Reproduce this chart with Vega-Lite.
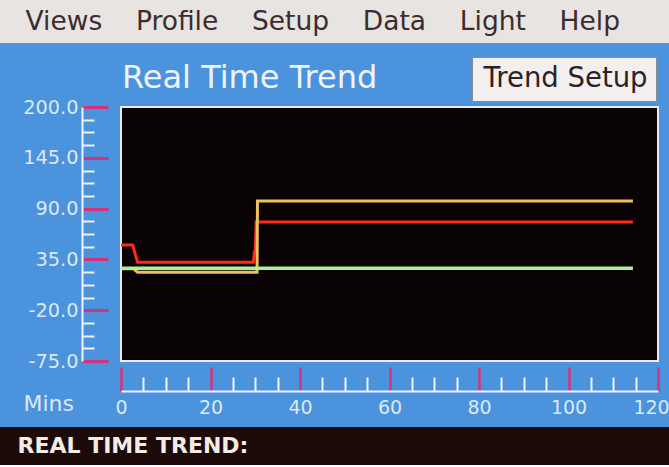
{
  "$schema": "https://vega.github.io/schema/vega-lite/v6.json",
  "background": "#4b93dc",
  "padding": 0,
  "spacing": 9,
  "config": {"font": "DejaVu Sans", "view": {"stroke": null},
    "locale": {"number": {"decimal": ".", "thousands": ",", "grouping": [3], "currency": ["$", ""], "minus": "-"}}},
  "datasets": {
    "menu": [{"label": "Views\u00a0\u00a0\u00a0\u00a0Profile\u00a0\u00a0\u00a0\u00a0Setup\u00a0\u00a0\u00a0\u00a0Data\u00a0\u00a0\u00a0\u00a0Light\u00a0\u00a0\u00a0\u00a0Help"}],
    "footer": [{"label": "REAL TIME TREND:"}],
    "traces": [
      {"trace": "Trace A", "t": 0, "v": 50.5},
      {"trace": "Trace A", "t": 2.6, "v": 50.5},
      {"trace": "Trace A", "t": 3.7, "v": 32},
      {"trace": "Trace A", "t": 29.6, "v": 32},
      {"trace": "Trace A", "t": 29.8, "v": 43},
      {"trace": "Trace A", "t": 30.0, "v": 43},
      {"trace": "Trace A", "t": 30.2, "v": 75.5},
      {"trace": "Trace A", "t": 114.4, "v": 75.5},
      {"trace": "Trace B", "t": 0, "v": 25},
      {"trace": "Trace B", "t": 2.8, "v": 25},
      {"trace": "Trace B", "t": 3.7, "v": 21},
      {"trace": "Trace B", "t": 30.4, "v": 21},
      {"trace": "Trace B", "t": 30.5, "v": 98.2},
      {"trace": "Trace B", "t": 114.4, "v": 98.2},
      {"trace": "Trace C", "t": 0, "v": 25.5},
      {"trace": "Trace C", "t": 114.4, "v": 25.5}
    ]
  },
  "vconcat": [
    {
      "width": 669,
      "height": 43,
      "view": {"fill": "#e7e4e2", "stroke": null},
      "title": {"text": "\u00a0", "orient": "bottom", "offset": 8, "fontSize": 1, "color": "transparent"},
      "data": {"name": "menu"},
      "mark": {"type": "text", "align": "left", "baseline": "middle", "dx": -309, "font": "DejaVu Sans", "fontSize": 26.5, "color": "#3b2d2f"},
      "encoding": {"text": {"field": "label", "type": "nominal"}}
    },
    {
      "spacing": 0,
      "hconcat": [
        {
          "width": 0,
          "height": 254,
          "data": {"values": []},
          "mark": "point"
        },
        {
          "width": 537,
          "height": 254,
          "view": {"fill": "#0a0306", "stroke": "#efe9f1", "strokeWidth": 2},
          "title": {"text": "Real Time Trend", "anchor": "start", "frame": "group", "fontSize": 32, "font": "DejaVu Sans", "fontWeight": "normal", "color": "#eef3fa", "offset": 3, "dx": 1},
          "data": {"name": "traces"},
          "layer": [
            {
              "transform": [{"filter": "datum.trace != 'Trace C'"}],
              "mark": {"type": "line", "strokeWidth": 3, "interpolate": "linear"},
              "encoding": {
                "x": {"field": "t", "type": "quantitative", "scale": {"domain": [0, 120], "nice": false, "zero": false},
                  "axis": {"orient": "bottom", "offset": 30, "values": [0, 20, 40, 60, 80, 100, 120], "format": "d", "grid": false,
                    "domainColor": "#f2f2f6", "domainWidth": 2, "tickColor": "#d4327c", "tickWidth": 2.5, "tickSize": -24,
                    "labelColor": "#dde8f6", "labelFontSize": 19, "labelFont": "DejaVu Sans", "labelPadding": 31, "labelFlush": false, "labelOverlap": false, "labelBound": false,
                    "labelOffset": {"condition": {"test": "datum.value === 120", "value": -7}, "value": 0},
                    "title": "Mins", "titleX": -98, "titleY": 19, "titleAlign": "left", "titleBaseline": "alphabetic", "titleAnchor": "start", "titleFontSize": 22, "titleFontWeight": "normal", "titleFont": "DejaVu Sans", "titleColor": "#dde8f6"}},
                "y": {"field": "v", "type": "quantitative", "scale": {"domain": [-75, 200], "nice": false, "zero": false},
                  "axis": {"orient": "left", "offset": 39, "values": [-75, -20, 35, 90, 145, 200], "format": ".1f", "grid": false,
                    "domainColor": "#f2f2f6", "domainWidth": 2, "tickColor": "#d4327c", "tickWidth": 3, "tickSize": -26,
                    "labelColor": "#dde8f6", "labelFontSize": 19.3, "labelFont": "DejaVu Sans", "labelPadding": 30, "labelOverlap": false, "labelBound": false, "title": null}},
                "color": {"field": "trace", "type": "nominal", "scale": {"domain": ["Trace A", "Trace B", "Trace C"], "range": ["#ff2a1c", "#ecc25c", "#aef096"]}, "legend": null},
                "strokeDash": {"datum": "Trend Setup", "scale": {"range": [[1, 0]]},
                  "legend": {"orient": "none", "legendX": 472, "legendY": 57, "fillColor": "#f3efef", "strokeColor": "#8e8a8c", "padding": 8, "title": null,
                    "labelFontSize": 27.5, "labelFont": "DejaVu Sans", "labelColor": "#2a2224", "labelOffset": -24, "labelLimit": 400,
                    "symbolType": "circle", "symbolOpacity": 0, "symbolSize": 0.01, "symbolStrokeWidth": 0}}
              }
            },
            {
              "transform": [{"filter": "datum.trace == 'Trace C'"}],
              "mark": {"type": "line", "strokeWidth": 3.5},
              "encoding": {
                "x": {"field": "t", "type": "quantitative",
                  "axis": {"orient": "bottom", "offset": 30, "values": [5, 10, 15, 25, 30, 35, 45, 50, 55, 65, 70, 75, 85, 90, 95, 105, 110, 115], "grid": false,
                    "domain": false, "labels": false, "tickColor": "#f2f2f6", "tickWidth": 2, "tickSize": -14, "title": null}},
                "y": {"field": "v", "type": "quantitative",
                  "axis": {"orient": "left", "offset": 39, "values": [-61.25, -47.5, -33.75, -6.25, 7.5, 21.25, 48.75, 62.5, 76.25, 103.75, 117.5, 131.25, 158.75, 172.5, 186.25], "grid": false,
                    "domain": false, "labels": false, "tickColor": "#f2f2f6", "tickWidth": 2, "tickSize": -12,
                    "title": "\u00a0", "titleX": -61, "titleY": 0, "titleAngle": 0, "titleAlign": "left", "titleBaseline": "top", "titleFontSize": 10, "titleOpacity": 0}},
                "color": {"field": "trace", "type": "nominal", "legend": null}
              }
            }
          ],
          "resolve": {"axis": {"x": "independent", "y": "independent"}}
        }
      ]
    },
    {
      "width": 669,
      "height": 38,
      "view": {"fill": "#1c0b09", "stroke": null},
      "data": {"name": "footer"},
      "mark": {"type": "text", "align": "left", "baseline": "middle", "dx": -317, "font": "DejaVu Sans", "fontWeight": "bold", "fontSize": 22, "color": "#f4ebe6"},
      "encoding": {"text": {"field": "label", "type": "nominal"}}
    }
  ]
}
